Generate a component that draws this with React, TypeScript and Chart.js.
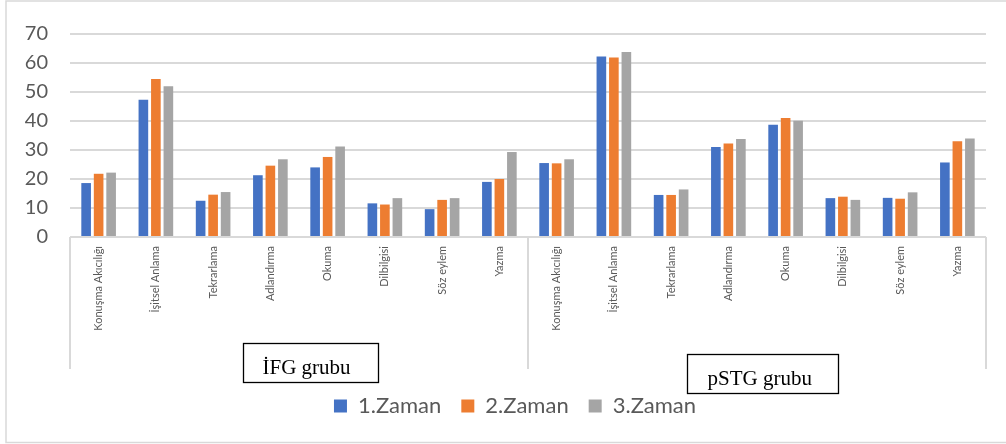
import React, { useEffect, useRef } from "react";
import { Chart, registerables } from "chart.js";

Chart.register(...registerables);

const skills = [
  "Konuşma Akıcılığı",
  "İşitsel Anlama",
  "Tekrarlama",
  "Adlandırma",
  "Okuma",
  "Dilbilgisi",
  "Söz eylem",
  "Yazma",
];
const groups = ["İFG grubu", "pSTG grubu"];
const seriesNames = ["1.Zaman", "2.Zaman", "3.Zaman"];
const seriesColors = ["#4472C4", "#ED7D31", "#A5A5A5"];

const ifgTime1 = [18.6, 47.3, 12.5, 21.3, 24.0, 11.6, 9.6, 19.0];
const ifgTime2 = [21.8, 54.5, 14.6, 24.6, 27.6, 11.2, 12.8, 20.0];
const ifgTime3 = [22.2, 52.0, 15.5, 26.8, 31.2, 13.4, 13.4, 29.3];
const pstgTime1 = [25.5, 62.2, 14.5, 31.0, 38.7, 13.4, 13.5, 25.7];
const pstgTime2 = [25.4, 61.9, 14.5, 32.2, 41.0, 13.9, 13.2, 33.0];
const pstgTime3 = [26.8, 63.8, 16.4, 33.8, 40.1, 12.8, 15.4, 34.0];

const yTicksMin = 0;
const yTicksMax = 70;
const yTicksStep = 10;

const GRAY_TEXT = "#595959";
const GRID = "#d9d9d9";

const decorPlugin = {
  id: "decor",
  afterLayout(chart: any) {
    const lg = chart.legend;
    if (lg) {
      lg.left += 12;
      lg.right += 12;
    }
  },
  afterDraw(chart: any) {
    const ctx = chart.ctx;
    const x = chart.scales.x;
    const area = chart.chartArea;
    const n = skills.length;
    const left = x.left;
    const right = x.right;
    const mid = (x.getPixelForValue(n - 1) + x.getPixelForValue(n)) / 2;
    ctx.save();
    // group separators
    ctx.strokeStyle = GRID;
    ctx.lineWidth = 2;
    [left, mid, right].forEach((px) => {
      ctx.beginPath();
      ctx.moveTo(px, area.bottom);
      ctx.lineTo(px, area.bottom + 132);
      ctx.stroke();
    });
    // group label boxes
    const boxes = [
      { cx: (left + mid) / 2, dx: -56, w: 135, dy: 105.7, tx: 19 },
      { cx: (mid + right) / 2, dx: -70, w: 151, dy: 116.7, tx: 20 },
    ];
    ctx.font = "21px 'Liberation Serif', 'Times New Roman', serif";
    ctx.textAlign = "left";
    ctx.textBaseline = "alphabetic";
    boxes.forEach((b, i) => {
      const bx = Math.round(b.cx + b.dx) + 0.5;
      const by = Math.round(area.bottom + b.dy) + 0.5;
      ctx.fillStyle = "#ffffff";
      ctx.fillRect(bx, by, b.w, 39);
      ctx.strokeStyle = "#000000";
      ctx.lineWidth = 1.3;
      ctx.strokeRect(bx, by, b.w, 39);
      ctx.fillStyle = "#000000";
      ctx.fillText(groups[i], bx + b.tx, by + 30.5);
    });
    // outer frame
    ctx.strokeStyle = GRID;
    ctx.lineWidth = 1.5;
    ctx.beginPath();
    ctx.moveTo(1006, 1);
    ctx.lineTo(6, 1);
    ctx.lineTo(6, 442.5);
    ctx.lineTo(1006, 442.5);
    ctx.stroke();
    ctx.restore();
  },
};

export default function App() {
  const ref = useRef<HTMLCanvasElement | null>(null);

  useEffect(() => {
    if (!ref.current) return;
    const labels = [...skills, ...skills];
    const seriesData = [
      [...ifgTime1, ...pstgTime1],
      [...ifgTime2, ...pstgTime2],
      [...ifgTime3, ...pstgTime3],
    ];
    const chart = new Chart(ref.current, {
      type: "bar",
      data: {
        labels,
        datasets: seriesNames.map((name, i) => ({
          label: name,
          data: seriesData[i],
          backgroundColor: seriesColors[i],
          borderWidth: 0,
          categoryPercentage: 0.655,
          barPercentage: 0.77,
        })),
      },
      options: {
        responsive: false,
        animation: false,
        devicePixelRatio: 1,
        layout: { padding: { top: 29, right: 20, bottom: 17, left: 20 } },
        plugins: {
          tooltip: { enabled: false },
          legend: {
            position: "bottom",
            labels: {
              boxWidth: 13,
              boxHeight: 13,
              padding: 20,
              color: GRAY_TEXT,
              font: { family: "Lato", size: 22 },
            },
          },
        },
        scales: {
          x: {
            grid: { display: false, drawTicks: false },
            border: { display: false },
            ticks: {
              autoSkip: false,
              maxRotation: 90,
              minRotation: 90,
              padding: 9,
              color: GRAY_TEXT,
              font: { family: "Lato", size: 11 },
            },
            afterFit: (scale: any) => {
              scale.height = 138;
            },
          },
          y: {
            min: yTicksMin,
            max: yTicksMax,
            grid: { color: GRID, lineWidth: 2, drawTicks: false },
            border: { display: false },
            ticks: {
              stepSize: yTicksStep,
              padding: 22,
              color: GRAY_TEXT,
              font: { family: "Lato", size: 20 },
            },
            afterFit: (scale: any) => {
              scale.width = 50;
            },
          },
        },
      },
      plugins: [decorPlugin],
    });
    return () => chart.destroy();
  }, []);

  return (
    <div
      style={{
        position: "fixed",
        left: 0,
        top: 0,
        width: 1006,
        height: 444,
        background: "#ffffff",
      }}
    >
      <canvas ref={ref} width={1006} height={444} style={{ width: 1006, height: 444, display: "block" }} />
    </div>
  );
}
